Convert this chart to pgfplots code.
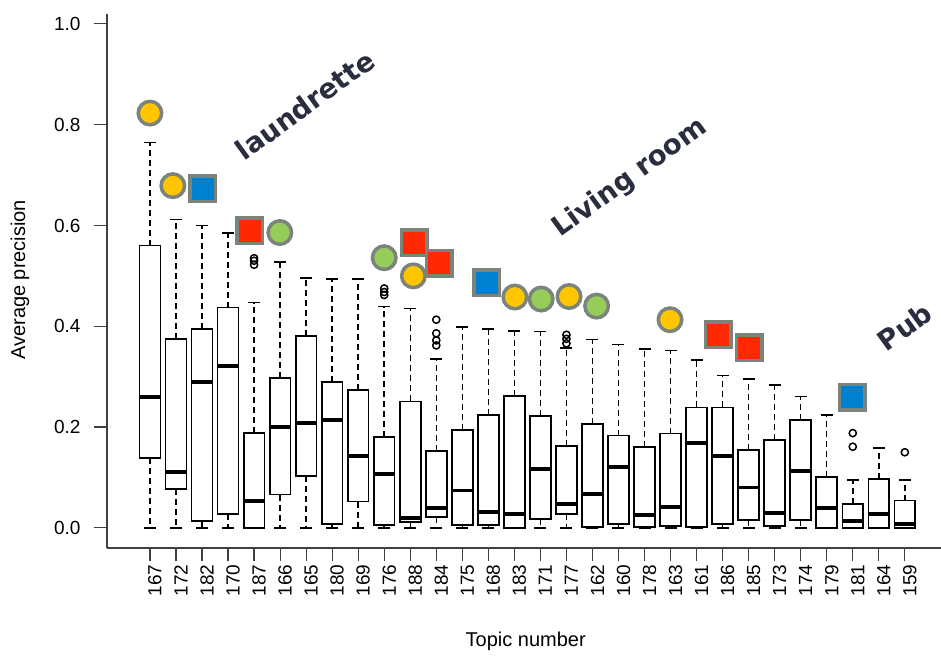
\documentclass[border=0pt]{standalone}
\usepackage{pgfplots}
\pgfplotsset{compat=1.18}
\usepgfplotslibrary{statistics}
\usepackage{fontspec}
\setmainfont{Liberation Sans}
\newfontfamily\annfont{DejaVu Sans}
\definecolor{myyellow}{RGB}{255,198,0}
\definecolor{mygreen}{RGB}{150,204,90}
\definecolor{myblue}{RGB}{0,128,208}
\definecolor{myred}{RGB}{255,40,0}
\definecolor{myborder}{RGB}{122,132,122}
\definecolor{anncol}{RGB}{42,45,62}
\pgfplotsset{
  bp/.style={black, line width=1.7pt, mark=o, mark size=3.6pt, mark options={solid, line width=1.5pt}},
  cap/.style={only marks, black, mark=-, mark size=6pt, mark options={solid, line width=1.6pt}},
}
\begin{document}
\begin{tikzpicture}
\begin{axis}[
  at={(0,0)}, anchor=south west,
  scale only axis, width=834pt, height=534.2pt,
  xmin=-0.65, xmax=31.39, ymin=-0.04, ymax=1.02,
  axis x line*=bottom, axis y line*=left,
  axis line style={-, black!75, line width=1.2pt},
  tick align=outside, major tick length=13pt,
  tick style={black!75, line width=1.2pt},
  xtick={1,...,30},
  xticklabels={167,172,182,170,187,166,165,180,169,176,188,184,175,168,183,171,177,162,160,178,163,161,186,185,173,174,179,181,164,159},
  x tick label style={rotate=90, anchor=east, yshift=-5pt, font=\fontsize{19}{19}\selectfont},
  ytick={0,0.2,0.4,0.6,0.8,1.0},
  y tick label style={xshift=-10pt, font=\fontsize{19}{19}\selectfont, /pgf/number format/fixed, /pgf/number format/fixed zerofill, /pgf/number format/precision=1, /pgf/number format/assume math mode=true},
  xlabel={Topic number}, ylabel={Average precision},
  every axis x label/.style={at={([yshift=-93pt]axis description cs:0.502,0)}, anchor=center, font=\fontsize{20}{20}\selectfont},
  every axis y label/.style={at={([xshift=-87pt]axis description cs:0,0.502)}, anchor=center, rotate=90, font=\fontsize{20}{20}\selectfont},
  clip=false,
  boxplot/draw direction=y,
  boxplot/box extend=0.8,
  boxplot/whisker extend=0,
  boxplot/every whisker/.style={line width=1.5pt, dash pattern=on 6pt off 4pt},
  boxplot/every median/.style={line width=3.8pt},
]
\addplot[bp, boxplot prepared={draw position=1, lower whisker=0, lower quartile=0.139, median=0.259, upper quartile=0.560, upper whisker=0.765}] coordinates {};
\addplot[bp, boxplot prepared={draw position=2, lower whisker=0, lower quartile=0.077, median=0.111, upper quartile=0.375, upper whisker=0.612}] coordinates {};
\addplot[bp, boxplot prepared={draw position=3, lower whisker=0, lower quartile=0.013, median=0.289, upper quartile=0.395, upper whisker=0.600}] coordinates {};
\addplot[bp, boxplot prepared={draw position=4, lower whisker=0, lower quartile=0.028, median=0.321, upper quartile=0.437, upper whisker=0.585}] coordinates {};
\addplot[bp, boxplot prepared={draw position=5, lower whisker=0, lower quartile=0.0, median=0.054, upper quartile=0.188, upper whisker=0.447}] table[row sep=\\, y index=0] {y\\ 0.522\\ 0.530\\ 0.535\\};
\addplot[bp, boxplot prepared={draw position=6, lower whisker=0, lower quartile=0.066, median=0.200, upper quartile=0.298, upper whisker=0.527}] coordinates {};
\addplot[bp, boxplot prepared={draw position=7, lower whisker=0, lower quartile=0.103, median=0.208, upper quartile=0.380, upper whisker=0.496}] coordinates {};
\addplot[bp, boxplot prepared={draw position=8, lower whisker=0, lower quartile=0.007, median=0.214, upper quartile=0.290, upper whisker=0.494}] coordinates {};
\addplot[bp, boxplot prepared={draw position=9, lower whisker=0, lower quartile=0.052, median=0.142, upper quartile=0.274, upper whisker=0.494}] coordinates {};
\addplot[bp, boxplot prepared={draw position=10, lower whisker=0, lower quartile=0.006, median=0.107, upper quartile=0.180, upper whisker=0.439}] table[row sep=\\, y index=0] {y\\ 0.462\\ 0.468\\ 0.475\\};
\addplot[bp, boxplot prepared={draw position=11, lower whisker=0, lower quartile=0.011, median=0.019, upper quartile=0.251, upper whisker=0.435}] coordinates {};
\addplot[bp, boxplot prepared={draw position=12, lower whisker=0, lower quartile=0.021, median=0.040, upper quartile=0.153, upper whisker=0.335}] table[row sep=\\, y index=0] {y\\ 0.362\\ 0.372\\ 0.386\\ 0.413\\};
\addplot[bp, boxplot prepared={draw position=13, lower whisker=0, lower quartile=0.005, median=0.074, upper quartile=0.194, upper whisker=0.398}] coordinates {};
\addplot[bp, boxplot prepared={draw position=14, lower whisker=0, lower quartile=0.005, median=0.032, upper quartile=0.224, upper whisker=0.395}] coordinates {};
\addplot[bp, boxplot prepared={draw position=15, lower whisker=0, lower quartile=0.0, median=0.028, upper quartile=0.261, upper whisker=0.391}] coordinates {};
\addplot[bp, boxplot prepared={draw position=16, lower whisker=0, lower quartile=0.017, median=0.116, upper quartile=0.222, upper whisker=0.390}] coordinates {};
\addplot[bp, boxplot prepared={draw position=17, lower whisker=0, lower quartile=0.028, median=0.047, upper quartile=0.163, upper whisker=0.357}] table[row sep=\\, y index=0] {y\\ 0.366\\ 0.375\\ 0.383\\};
\addplot[bp, boxplot prepared={draw position=18, lower whisker=0, lower quartile=0.002, median=0.067, upper quartile=0.206, upper whisker=0.374}] coordinates {};
\addplot[bp, boxplot prepared={draw position=19, lower whisker=0, lower quartile=0.008, median=0.120, upper quartile=0.183, upper whisker=0.364}] coordinates {};
\addplot[bp, boxplot prepared={draw position=20, lower whisker=0, lower quartile=0.002, median=0.026, upper quartile=0.161, upper whisker=0.355}] coordinates {};
\addplot[bp, boxplot prepared={draw position=21, lower whisker=0, lower quartile=0.003, median=0.041, upper quartile=0.187, upper whisker=0.352}] coordinates {};
\addplot[bp, boxplot prepared={draw position=22, lower whisker=0, lower quartile=0.001, median=0.168, upper quartile=0.239, upper whisker=0.333}] coordinates {};
\addplot[bp, boxplot prepared={draw position=23, lower whisker=0, lower quartile=0.007, median=0.142, upper quartile=0.239, upper whisker=0.302}] coordinates {};
\addplot[bp, boxplot prepared={draw position=24, lower whisker=0, lower quartile=0.016, median=0.080, upper quartile=0.155, upper whisker=0.295}] coordinates {};
\addplot[bp, boxplot prepared={draw position=25, lower whisker=0, lower quartile=0.004, median=0.029, upper quartile=0.175, upper whisker=0.284}] coordinates {};
\addplot[bp, boxplot prepared={draw position=26, lower whisker=0, lower quartile=0.016, median=0.113, upper quartile=0.214, upper whisker=0.261}] coordinates {};
\addplot[bp, boxplot prepared={draw position=27, lower whisker=0, lower quartile=0.0, median=0.040, upper quartile=0.101, upper whisker=0.224}] coordinates {};
\addplot[bp, boxplot prepared={draw position=28, lower whisker=0, lower quartile=0.0, median=0.013, upper quartile=0.047, upper whisker=0.095}] table[row sep=\\, y index=0] {y\\ 0.161\\ 0.188\\};
\addplot[bp, boxplot prepared={draw position=29, lower whisker=0, lower quartile=0.0, median=0.027, upper quartile=0.097, upper whisker=0.159}] coordinates {};
\addplot[bp, boxplot prepared={draw position=30, lower whisker=0, lower quartile=0.0, median=0.007, upper quartile=0.054, upper whisker=0.095}] table[row sep=\\, y index=0] {y\\ 0.150\\};
% whisker caps (upper whisker values and lower whisker values)
\addplot[cap] coordinates {(1,0.765) (2,0.612) (3,0.600) (4,0.585) (5,0.447) (6,0.527) (7,0.496) (8,0.494) (9,0.494) (10,0.439) (11,0.435) (12,0.335) (13,0.398) (14,0.395) (15,0.391) (16,0.390) (17,0.357) (18,0.374) (19,0.364) (20,0.355) (21,0.352) (22,0.333) (23,0.302) (24,0.295) (25,0.284) (26,0.261) (27,0.224) (28,0.095) (29,0.159) (30,0.095)};
\addplot[cap] coordinates {(1,0) (2,0) (3,0) (4,0) (5,0) (6,0) (7,0) (8,0) (9,0) (10,0) (11,0) (12,0) (13,0) (14,0) (15,0) (16,0) (17,0) (18,0) (19,0) (20,0) (21,0) (22,0) (23,0) (24,0) (25,0) (26,0) (27,0) (28,0) (29,0) (30,0)};
% category markers
\addplot[only marks, mark=*, mark size=11.75pt, mark options={fill=myyellow, draw=myborder, line width=3.5pt}] coordinates {(1,0.823) (1.88,0.679) (11.12,0.500) (15.02,0.458) (17.1,0.459) (20.98,0.413)};
\addplot[only marks, mark=*, mark size=11.75pt, mark options={fill=mygreen, draw=myborder, line width=3.5pt}] coordinates {(5.99,0.586) (10.0,0.536) (16.03,0.454) (18.16,0.440)};
\addplot[only marks, mark=square*, mark size=12.75pt, mark options={fill=myblue, draw=myborder, line width=3.5pt}] coordinates {(3.02,0.673) (13.94,0.486) (27.98,0.259)};
\addplot[only marks, mark=square*, mark size=12.75pt, mark options={fill=myred, draw=myborder, line width=3.5pt}] coordinates {(4.84,0.590) (11.15,0.566) (12.11,0.525) (22.83,0.383) (24.02,0.357)};
\node[rotate=36, text=anncol, font=\annfont\bfseries\fontsize{27.5}{27.5}\selectfont] at (axis cs:6.95,0.839) {laundrette};
\node[rotate=36, text=anncol, font=\annfont\bfseries\fontsize{27.5}{27.5}\selectfont] at (axis cs:19.44,0.694) {Living room};
\node[rotate=36, text=anncol, font=\annfont\bfseries\fontsize{27.5}{27.5}\selectfont] at (axis cs:30.0,0.399) {Pub};
\end{axis}
\pgfresetboundingbox
\path[use as bounding box] (-107pt,-109pt) rectangle (834pt,548pt);
\end{tikzpicture}
\end{document}
